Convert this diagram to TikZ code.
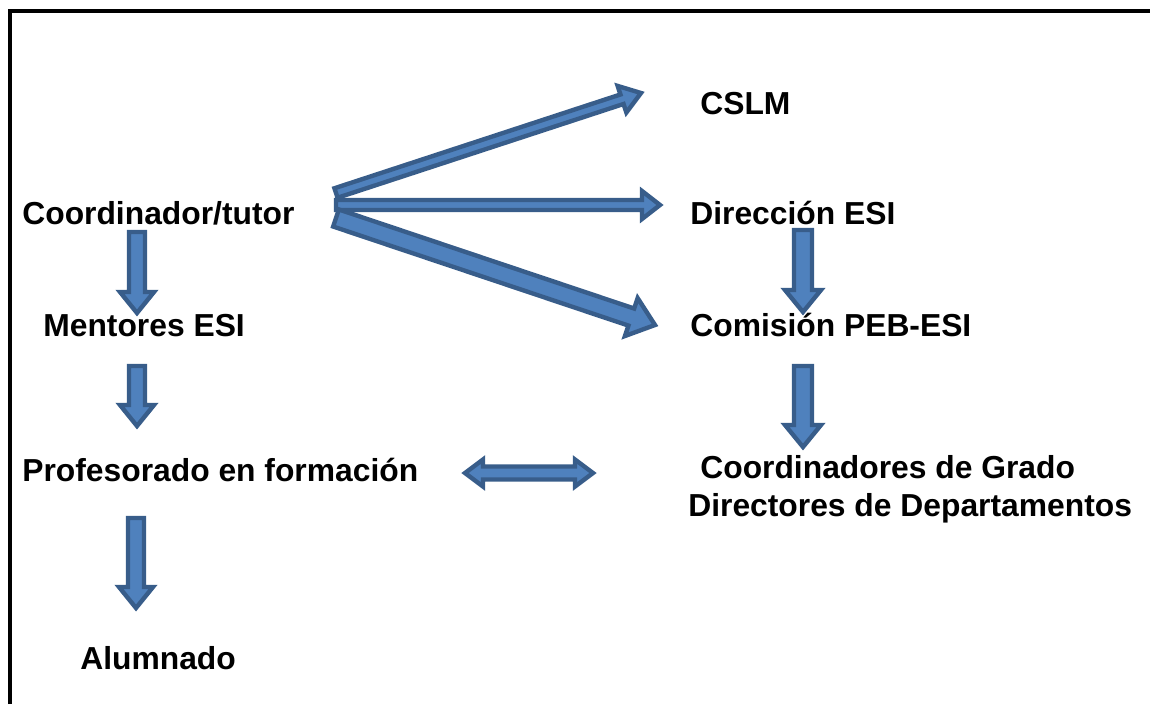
\documentclass[tikz,border=0pt]{standalone}
\usepackage{fontspec}
\setmainfont{Liberation Sans}
\usepackage{tikz}
\usetikzlibrary{calc}

\definecolor{flechafill}{RGB}{79,129,189}
\definecolor{flechaline}{RGB}{56,93,138}

\tikzset{
  texto/.style={anchor=base west,inner sep=0pt,font=\fontsize{18.1}{22}\selectfont\bfseries},
  flecha/.style={fill=flechafill,draw=flechaline,line width=2.5pt}
}

% start, end, shaft half width, head half width, head length
\newcommand{\blockarrow}[5]{
  \coordinate (ba-h) at ($(#2)!#5!(#1)$);
  \filldraw[flecha] ($(#1)!#3!90:(#2)$) -- ($(ba-h)!#3!-90:(#1)$) -- ($(ba-h)!#4!-90:(#1)$) -- (#2)
    -- ($(ba-h)!#4!90:(#1)$) -- ($(ba-h)!#3!90:(#1)$) -- ($(#1)!#3!-90:(#2)$) -- cycle;
}
\newcommand{\blockarrowboth}[5]{
  \coordinate (ba-h) at ($(#2)!#5!(#1)$);
  \coordinate (ba-t) at ($(#1)!#5!(#2)$);
  \filldraw[flecha] (#1) -- ($(ba-t)!#4!90:(#2)$) -- ($(ba-t)!#3!90:(#2)$) -- ($(ba-h)!#3!-90:(#1)$)
    -- ($(ba-h)!#4!-90:(#1)$) -- (#2) -- ($(ba-h)!#4!90:(#1)$) -- ($(ba-h)!#3!90:(#1)$)
    -- ($(ba-t)!#3!-90:(#2)$) -- ($(ba-t)!#4!-90:(#2)$) -- cycle;
}

\begin{document}
\begin{tikzpicture}
  \useasboundingbox (0,0) rectangle (23,-14.08);
  \draw[line width=2pt] (0.2,-14.08) -- (0.2,-0.22) -- (23,-0.22);

  \node[texto] (coord) at (0.44,-4.48) {Coordinador/tutor};
  \node[texto] (mentores) at (0.86,-6.72) {Mentores ESI};
  \node[texto] (profesorado) at (0.44,-9.62) {Profesorado en formación};
  \node[texto] (alumnado) at (1.6,-13.38) {Alumnado};
  \node[texto] (cslm) at (14.0,-2.28) {CSLM};
  \node[texto] (direccion) at (13.8,-4.48) {Dirección ESI};
  \node[texto] (comision) at (13.8,-6.72) {Comisión PEB-ESI};
  \node[texto] (coordgrado) at (14.0,-9.56) {Coordinadores de Grado};
  \node[texto] (directores) at (13.76,-10.32) {Directores de Departamentos};

  \coordinate (c1) at (6.72,-3.86);
  \coordinate (c2) at (6.72,-4.1);
  \coordinate (c3) at (6.72,-4.36);
  \coordinate (t1) at (12.82,-1.86);
  \coordinate (t2) at (13.2,-4.1);
  \coordinate (t3) at (13.1,-6.5);
  \blockarrow{c1}{t1}{0.1cm}{0.28cm}{0.4cm}
  \blockarrow{c2}{t2}{0.1cm}{0.28cm}{0.36cm}
  \blockarrow{c3}{t3}{0.18cm}{0.4cm}{0.5cm}

  \coordinate (m1) at (2.74,-4.64);
  \coordinate (m2) at (2.74,-6.26);
  \coordinate (p1) at (2.74,-7.32);
  \coordinate (p2) at (2.74,-8.52);
  \coordinate (a1) at (2.72,-10.36);
  \coordinate (a2) at (2.72,-12.16);
  \blockarrow{m1}{m2}{0.16cm}{0.34cm}{0.42cm}
  \blockarrow{p1}{p2}{0.16cm}{0.34cm}{0.42cm}
  \blockarrow{a1}{a2}{0.16cm}{0.34cm}{0.42cm}

  \coordinate (d1) at (16.06,-4.6);
  \coordinate (d2) at (16.06,-6.24);
  \coordinate (g1) at (16.06,-7.32);
  \coordinate (g2) at (16.06,-8.94);
  \blockarrow{d1}{d2}{0.18cm}{0.36cm}{0.44cm}
  \blockarrow{g1}{g2}{0.18cm}{0.36cm}{0.44cm}

  \coordinate (f1) at (9.3,-9.46);
  \coordinate (f2) at (11.86,-9.46);
  \blockarrowboth{f1}{f2}{0.13cm}{0.27cm}{0.36cm}
\end{tikzpicture}
\end{document}
